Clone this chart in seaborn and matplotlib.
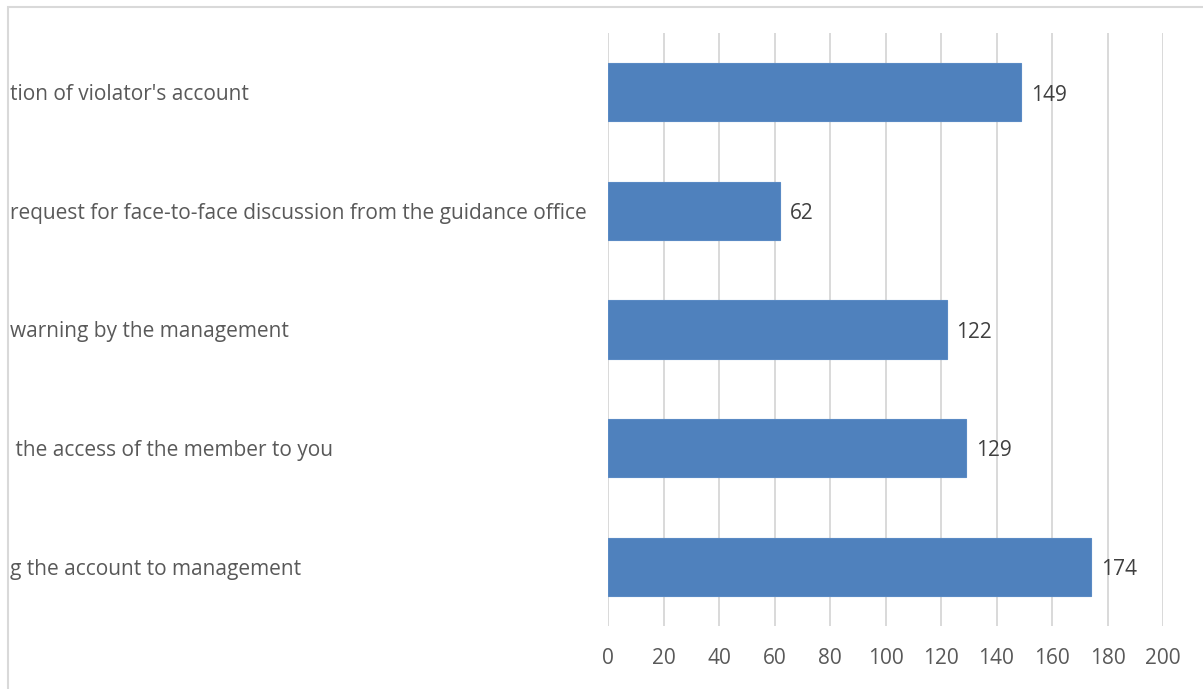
import matplotlib
matplotlib.use("Agg")
import matplotlib.pyplot as plt
from matplotlib.patches import Rectangle
import seaborn as sns
import pandas as pd

# Responses per action (top to bottom)
actions = [
    "tion of violator's account",
    "request for face-to-face discussion from the guidance office",
    "warning by the management",
    " the access of the member to you",
    "g the account to management",
]
counts = [149, 62, 122, 129, 174]
x_ticks = [0, 20, 40, 60, 80, 100, 120, 140, 160, 180, 200]

sns.set_theme(style="white")
plt.rcParams["font.family"] = ["Open Sans", "DejaVu Sans"]

W, H, DPI = 1203, 689, 100
fig = plt.figure(figsize=(W / DPI, H / DPI), dpi=DPI)
fig.patch.set_facecolor("white")

left_px, right_px, top_px, bottom_px = 608, 1163, 33, 626
ax = fig.add_axes([left_px / W, 1 - bottom_px / H,
                   (right_px - left_px) / W, (bottom_px - top_px) / H])

df = pd.DataFrame({"action": actions, "count": counts})
sns.barplot(data=df, x="count", y="action", orient="h", color="#4F81BD",
            width=0.49, edgecolor="#5a8ac4", linewidth=0.8, ax=ax,
            saturation=1, zorder=3)

ax.set_xlim(0, 200)
ax.set_ylim(len(actions) - 0.5, -0.5)
ax.set_xticks(x_ticks)
ax.set_xticklabels([str(t) for t in x_ticks])
ax.grid(axis="x", color="#d9d9d9", linewidth=1.4, zorder=0)
ax.grid(axis="y", visible=False)
for s in ax.spines.values():
    s.set_visible(False)
ax.set_xlabel("")
ax.set_ylabel("")

FS = 15
label_pad_pt = (left_px - 10) * 72 / DPI
ax.tick_params(axis="y", length=0, pad=label_pad_pt, labelsize=FS,
               labelcolor="#595959")
for lab in ax.get_yticklabels():
    lab.set_horizontalalignment("left")
ax.tick_params(axis="x", length=0, pad=16, labelsize=FS, labelcolor="#595959")

for cont in ax.containers:
    anns = ax.bar_label(cont, labels=[str(v) for v in counts], padding=7,
                        fontsize=FS, color="#404040")
    for a in anns:
        a.xyann = (7, -2)

# outer chart frame
fig.patches.append(Rectangle((8 / W, -0.1), 1.2, 1.1 - 7 / H,
                             transform=fig.transFigure, fill=False,
                             edgecolor="#d9d9d9", linewidth=1.5))

fig.savefig("out.png", dpi=DPI, facecolor="white")
